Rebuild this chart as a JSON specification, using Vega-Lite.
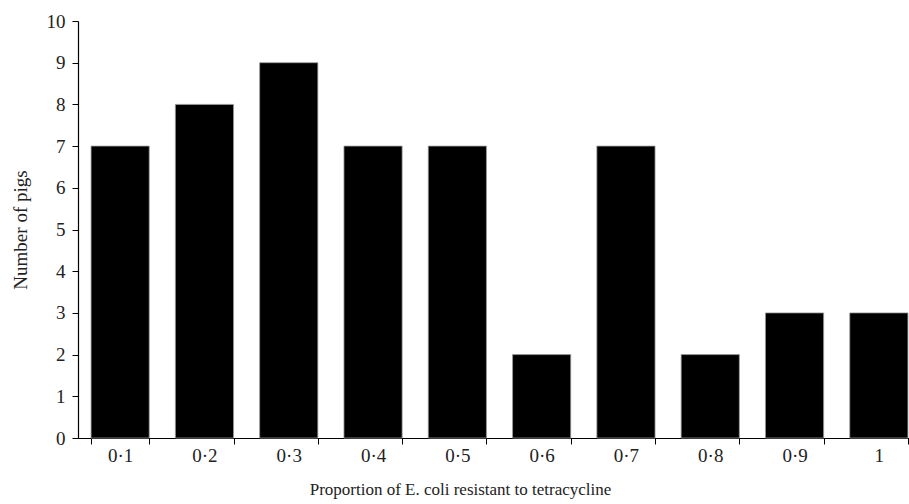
{
  "$schema": "https://vega.github.io/schema/vega-lite/v6.json",
  "autosize": "none",
  "padding": {"left": 78, "top": 21, "right": 0, "bottom": 66},
  "width": 843,
  "height": 417,
  "background": "white",
  "config": {"view": {"stroke": null}, "font": "Liberation Serif"},
  "data": {"values": [
    {"p": "0·1", "n": 7}, {"p": "0·2", "n": 8}, {"p": "0·3", "n": 9},
    {"p": "0·4", "n": 7}, {"p": "0·5", "n": 7}, {"p": "0·6", "n": 2},
    {"p": "0·7", "n": 7}, {"p": "0·8", "n": 2}, {"p": "0·9", "n": 3},
    {"p": "1", "n": 3}
  ]},
  "mark": {"type": "bar", "color": "black", "stroke": "#999", "strokeWidth": 0.8},
  "encoding": {
    "x": {
      "field": "p", "type": "ordinal", "sort": null,
      "scale": {"paddingInner": 0.31, "paddingOuter": 0.155},
      "axis": {
        "title": "Proportion of E. coli resistant to tetracycline",
        "labelAngle": 0, "labelFont": "Liberation Serif", "labelFontSize": 19,
        "labelColor": "#222", "labelPadding": 2,
        "tickBand": "extent", "tickSize": 6, "tickColor": "black",
        "domainColor": "black", "domainWidth": 1.2,
        "titleFont": "Liberation Serif", "titleFontSize": 17, "titleFontWeight": "normal",
        "titleColor": "#222", "titleX": 382, "titlePadding": 16
      }
    },
    "y": {
      "field": "n", "type": "quantitative",
      "scale": {"domain": [0, 10], "nice": false},
      "axis": {
        "title": "Number of pigs", "values": [0,1,2,3,4,5,6,7,8,9,10],
        "labelOverlap": false,
        "grid": false, "labelFont": "Liberation Serif", "labelFontSize": 19,
        "labelColor": "#222", "labelPadding": 7, "tickSize": 6, "tickColor": "black",
        "domainColor": "black", "domainWidth": 1.2,
        "titleFont": "Liberation Serif", "titleFontSize": 19, "titleFontWeight": "normal",
        "titleColor": "#222", "titlePadding": 16
      }
    }
  }
}
